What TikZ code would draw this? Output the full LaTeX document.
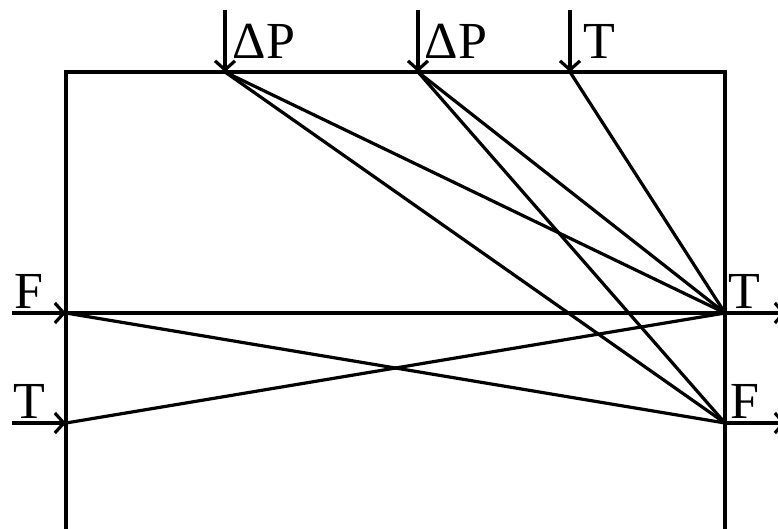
\documentclass[tikz,border=0pt]{standalone}
\usepackage{fontspec}
\setmainfont{Liberation Serif}
\usetikzlibrary{arrows.meta}
\begin{document}
\begin{tikzpicture}[x=1pt,y=-1pt,line width=3.2pt,
  ln/.style={draw=black,line cap=butt},
  ar/.style={-{Straight Barb[length=9pt,width=20pt,line width=3.2pt]}},
  lbl/.style={anchor=base west,inner sep=0pt,font=\fontsize{52}{52}\selectfont}]
\useasboundingbox (0,0) rectangle (778,529);
% corner and junction points
\coordinate (TL) at (66,72);
\coordinate (TR) at (725,72);
\coordinate (BL) at (66,529);
\coordinate (BR) at (725,529);
\coordinate (P1) at (225,72);
\coordinate (P2) at (418,72);
\coordinate (P3) at (570,72);
\coordinate (LF) at (66,313);
\coordinate (LT) at (66,423);
\coordinate (RT) at (725,313);
\coordinate (RF) at (725,423);
% arrow tails
\coordinate (P1s) at (225,10);
\coordinate (P2s) at (418,10);
\coordinate (P3s) at (570,10);
\coordinate (LFs) at (12,313);
\coordinate (LTs) at (12,423);
\coordinate (RTe) at (786,313);
\coordinate (RFe) at (786,423);
% box
\draw[ln] (BL) -- (TL) -- (TR) -- (BR);
% diagonals
\draw[ln] (P1) -- (RT);
\draw[ln] (P1) -- (RF);
\draw[ln] (P2) -- (RT);
\draw[ln] (P2) -- (RF);
\draw[ln] (P3) -- (RT);
\draw[ln] (LF) -- (RT);
\draw[ln] (LF) -- (RF);
\draw[ln] (LT) -- (RT);
% arrows
\draw[ln,ar] (P1s) -- (P1);
\draw[ln,ar] (P2s) -- (P2);
\draw[ln,ar] (P3s) -- (P3);
\draw[ln,ar] (LFs) -- (LF);
\draw[ln,ar] (LTs) -- (LT);
\draw[ln,ar] (RT) -- (RTe);
\draw[ln,ar] (RF) -- (RFe);
% labels
\node[lbl] (l1) at (231,59) {ΔP};
\node[lbl] (l2) at (423,59) {ΔP};
\node[lbl] (l3) at (582,59) {T};
\node[lbl] (l4) at (13,308) {F};
\node[lbl] (l5) at (12,418) {T};
\node[lbl] (l6) at (727,308) {T};
\node[lbl] (l7) at (729,418) {F};
\end{tikzpicture}
\end{document}
